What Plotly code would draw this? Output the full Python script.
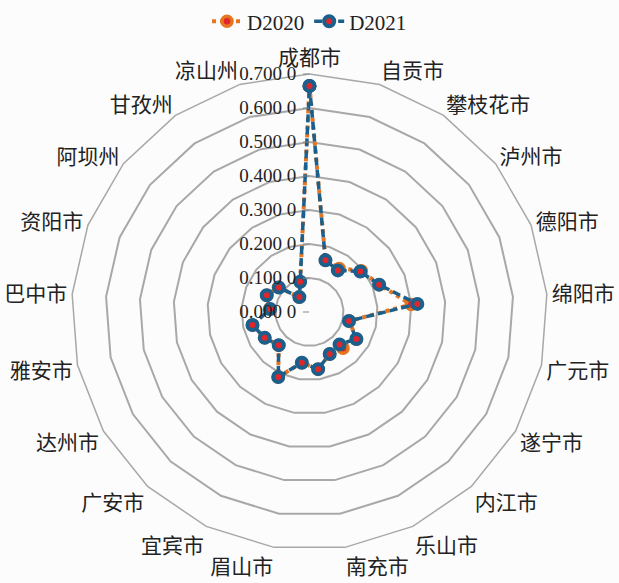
import plotly.graph_objects as go

categories = ["成都市", "自贡市", "攀枝花市", "泸州市", "德阳市", "绵阳市", "广元市",
              "遂宁市", "内江市", "乐山市", "南充市", "眉山市", "宜宾市", "广安市",
              "达州市", "雅安市", "巴中市", "资阳市", "阿坝州", "甘孜州", "凉山州"]

d2020 = [0.665, 0.160, 0.155, 0.195, 0.220, 0.300, 0.120,
         0.160, 0.145, 0.137, 0.170, 0.151, 0.212, 0.133,
         0.152, 0.172, 0.118, 0.135, 0.117, 0.053, 0.093]

d2021 = [0.665, 0.159, 0.148, 0.191, 0.220, 0.318, 0.119,
         0.159, 0.130, 0.137, 0.170, 0.151, 0.212, 0.133,
         0.152, 0.172, 0.116, 0.135, 0.115, 0.053, 0.093]

tick_vals = [0.0, 0.1, 0.2, 0.3, 0.4, 0.5, 0.6, 0.7]
tick_text = ["0.000 0", "0.100 0", "0.200 0", "0.300 0", "0.400 0", "0.500 0", "0.600 0", "0.700 0"]

theta = categories + [categories[0]]

fig = go.Figure()
fig.add_trace(go.Scatterpolar(
    r=d2020 + [d2020[0]], theta=theta, name="D2020", mode="lines+markers",
    line=dict(color="#E8741E", width=4, dash="4px,4px"),
    marker=dict(size=10, color="#E0262A", line=dict(color="#E8741E", width=3.5)),
))
fig.add_trace(go.Scatterpolar(
    r=d2021 + [d2021[0]], theta=theta, name="D2021", mode="lines+markers",
    line=dict(color="#1B5F8C", width=3.5, dash="8px,4px"),
    marker=dict(size=10, color="#E0262A", line=dict(color="#1B5F8C", width=4)),
))

fig.update_layout(
    width=619, height=583,
    margin=dict(l=71, r=71, t=74, b=33),
    paper_bgcolor="#fcfcfc", plot_bgcolor="#fcfcfc",
    showlegend=True,
    legend=dict(orientation="h", x=0.5, xanchor="center", y=0.998, yanchor="top",
                yref="container", font=dict(family="Liberation Serif", size=21, color="#222"),
                itemwidth=30, tracegroupgap=0, bgcolor="rgba(0,0,0,0)"),
    polar=dict(
        bgcolor="#fcfcfc",
        gridshape="linear",
        radialaxis=dict(
            range=[0, 0.7], tickvals=tick_vals, ticktext=tick_text,
            angle=90, side="counterclockwise", tickangle=90,
            showline=False, ticks="outside", ticklen=6, tickcolor="#888",
            gridcolor="#a8a8a8", gridwidth=1.5,
            tickfont=dict(family="Liberation Serif", size=19, color="#222"),
        ),
        angularaxis=dict(
            rotation=90, direction="clockwise", showgrid=False,
            showline=True, linecolor="#a8a8a8", linewidth=1.5, ticks="",
            tickfont=dict(family="Noto Sans CJK SC", size=21, color="#222"),
        ),
    ),
)

fig.write_html("out.html")
